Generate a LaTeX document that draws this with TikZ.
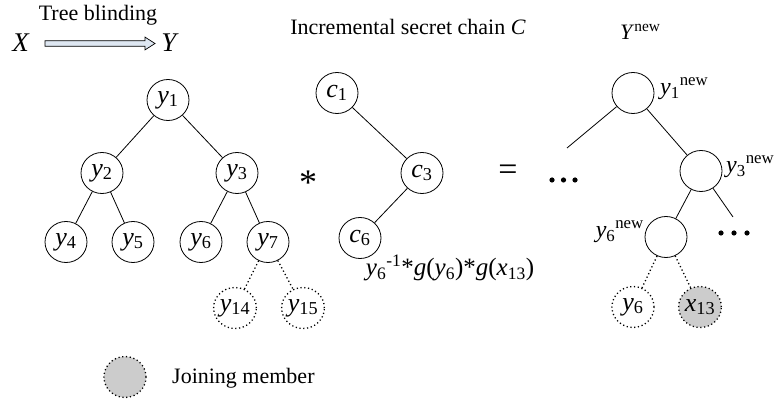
\documentclass[tikz,border=0pt]{standalone}
\usepackage{fontspec}
\setmainfont{Liberation Serif}
\usetikzlibrary{shapes.geometric,calc}

\definecolor{joingray}{RGB}{204,204,204}
\definecolor{arrowfill}{RGB}{222,231,242}

% italic letter with upright index
\newcommand{\iv}[2]{\textit{#1}\textsubscript{#2}}

\begin{document}
\begin{tikzpicture}[x=1pt,y=-1pt,
  every node/.style={font=\fontsize{22}{26}\selectfont, inner sep=0pt},
  member/.style={ellipse, draw, line width=0.8pt, minimum width=42pt, minimum height=41pt,
    font=\fontsize{26}{28}\selectfont},
  pending/.style={member, line width=1.3pt, dash pattern=on 1.2pt off 2.6pt},
  joiner/.style={pending, fill=joingray},
  branch/.style={line width=0.8pt},
  newbranch/.style={line width=1.3pt, dash pattern=on 1.2pt off 2.6pt},
  bigvar/.style={font=\fontsize{27}{28}\selectfont},
  sidelabel/.style={font=\fontsize{24}{26}\selectfont},
  dots/.style={fill=black},
]
\useasboundingbox (0,0) rectangle (777,403);

% ---- blinding arrow X => Y
\node[bigvar] (X) at (21,43) {\textit{X}};
\node[bigvar] (Y) at (170,43) {\textit{Y}};
\node (blind) at (98,15) {Tree blinding};
\coordinate (tail) at (45,43.5);
\coordinate (tip) at (155,43.5);
\draw[line width=0.7pt, fill=arrowfill]
  ($(tail)+(0,-2.8)$) -- ($(tip)+(-10,-2.8)$) -- ($(tip)+(-10,-6.4)$) -- (tip)
  -- ($(tip)+(-10,6.4)$) -- ($(tip)+(-10,2.8)$) -- ($(tail)+(0,2.8)$) -- cycle;

% ---- tree Y
\node[member] (y1) at (168,100) {\iv{y}{1}};
\node[member] (y2) at (102,173) {\iv{y}{2}};
\node[member] (y3) at (237,173) {\iv{y}{3}};
\node[member] (y4) at (66,242) {\iv{y}{4}};
\node[member] (y5) at (133,242) {\iv{y}{5}};
\node[member] (y6) at (201,242) {\iv{y}{6}};
\node[member] (y7) at (268,242) {\iv{y}{7}};
\node[pending] (y14) at (235,308) {\iv{y}{14}};
\node[pending] (y15) at (303,308) {\iv{y}{15}};
\draw[branch] (y1) -- (y2) (y1) -- (y3) (y2) -- (y4) (y2) -- (y5)
  (y3) -- (y6) (y3) -- (y7);
\draw[newbranch] (y7) -- (y14) (y7) -- (y15);

\node[font=\fontsize{36}{36}\selectfont] (times) at (308,183) {*};

% ---- incremental secret chain C
\node (chaintitle) at (408,27) {Incremental secret chain \textit{C}};
\node[member] (c1) at (337,93) {\iv{c}{1}};
\node[member] (c3) at (422,173) {\iv{c}{3}};
\node[member] (c6) at (360,238) {\iv{c}{6}};
\draw[branch] (c1) -- (c3) (c3) -- (c6);
\node[font=\fontsize{25}{26}\selectfont] (formula) at (450,268)
  {\iv{y}{6}\textsuperscript{-1}*\textit{g}(\iv{y}{6})*\textit{g}(\iv{x}{13})};

\node[font=\fontsize{34}{34}\selectfont] (equals) at (508,173) {=};

% ---- resulting tree Y^new
\node[anchor=west] (ynewtitle) at (620,32) {\textit{Y}\textsuperscript{new}};
\node[member] (n1) at (633,93) {};
\node[member] (n3) at (701,171) {};
\node[member] (n6) at (666,237) {};
\node[pending] (oldy6) at (633,307) {\iv{y}{6}};
\node[joiner] (x13) at (700,307) {\iv{x}{13}};
\coordinate (leftend) at (567,148);
\coordinate (rightend) at (733,217);
\draw[branch] (n1) -- (leftend) (n1) -- (n3) (n3) -- (n6) (n3) -- (rightend);
\draw[newbranch] (n6) -- (oldy6) (n6) -- (x13);
\node[sidelabel, anchor=west] (n1lab) at (660,89) {\iv{y}{1}\textsuperscript{new}};
\node[sidelabel, anchor=west] (n3lab) at (726,167) {\iv{y}{3}\textsuperscript{new}};
\node[sidelabel, anchor=east] (n6lab) at (644,232) {\iv{y}{6}\textsuperscript{new}};
\foreach \x in {552,563.5,575} \fill[dots] (\x,180) circle (2.6);
\foreach \x in {721,734,747} \fill[dots] (\x,233) circle (2.6);

% ---- legend
\node[joiner] (legend) at (125,377) {};
\node[anchor=west] (legendtext) at (172,378) {Joining member};
\end{tikzpicture}
\end{document}
